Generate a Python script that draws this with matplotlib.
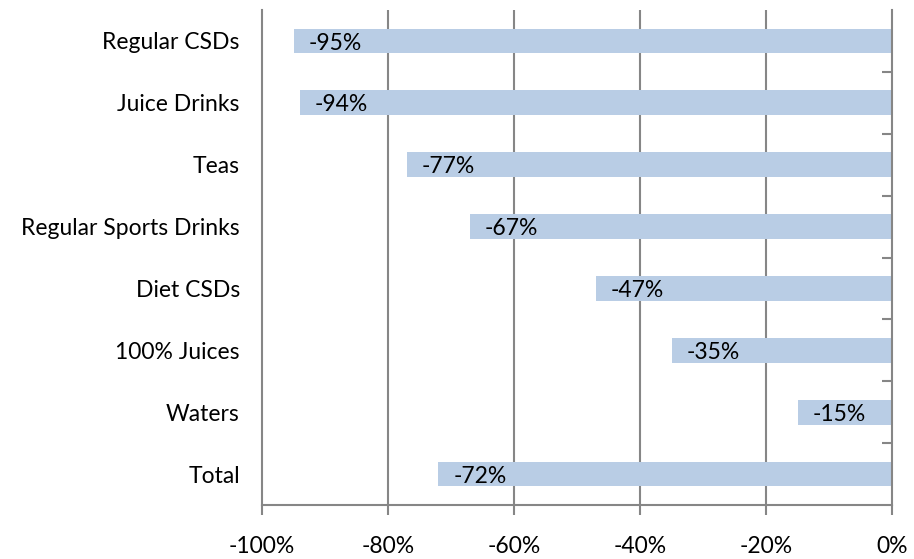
import matplotlib
matplotlib.use("Agg")
import matplotlib.pyplot as plt
from matplotlib.ticker import FixedLocator

categories = ["Regular CSDs", "Juice Drinks", "Teas", "Regular Sports Drinks",
              "Diet CSDs", "100% Juices", "Waters", "Total"]
values = [-95, -94, -77, -67, -47, -35, -15, -72]
xticks = [-100, -80, -60, -40, -20, 0]
xtick_labels = ["-100%", "-80%", "-60%", "-40%", "-20%", "0%"]

plt.rcParams['font.family'] = ['Lato', 'DejaVu Sans']

fig = plt.figure(figsize=(9.14, 5.59), dpi=100)
ax = fig.add_axes([262/914, 1 - 505/559, (892-262)/914, (505-10)/559])

gray = "#868686"
ypos = list(range(len(categories)))

for x in xticks[1:-1]:
    ax.axvline(x, color=gray, linewidth=1.5, zorder=1)

ax.barh(ypos, values, height=0.4, color="#B9CDE5", zorder=2)

for y, v in zip(ypos, values):
    ax.annotate(f"{v}%", xy=(v, y), xytext=(30, -1.5), textcoords="offset points",
                ha="center", va="center", fontsize=16.5, color="black", zorder=3)

ax.set_xlim(-100, 0)
ax.set_ylim(len(categories) - 0.5, -0.5)

ax.set_xticks(xticks)
ax.set_xticklabels(xtick_labels, fontsize=16.5)
ax.set_yticks(ypos)
ax.set_yticklabels(categories, fontsize=16.5)

ax.yaxis.set_minor_locator(FixedLocator([i + 0.5 for i in range(len(categories) - 1)]))
ax.tick_params(axis='y', which='major', left=False, right=False, length=0, pad=16)
ax.tick_params(axis='y', which='minor', left=False, right=True, direction='in',
               length=7, width=1.5, color=gray)
ax.tick_params(axis='x', which='major', direction='out', length=7, width=1.5,
               color=gray, pad=15)

for side in ['left', 'right', 'bottom']:
    ax.spines[side].set_color(gray)
    ax.spines[side].set_linewidth(1.5)
    ax.spines[side].set_zorder(4)
ax.spines['top'].set_visible(False)

fig.savefig("out.png", dpi=100)
